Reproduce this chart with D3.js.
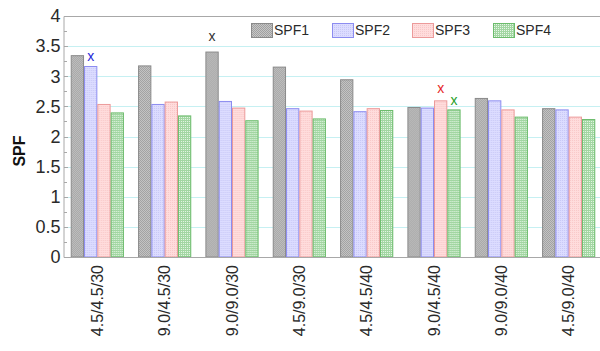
<!DOCTYPE html>
<html>
<head>
<meta charset="utf-8">
<script src="https://cdn.jsdelivr.net/npm/d3@7"></script>
<style>
  body { margin: 0; background: #fff; }
  svg { display: block; font-family: "Liberation Sans", Arial, sans-serif; }
</style>
</head>
<body>
<div id="chart"></div>
<script>
// groups on the x axis
var groups = ["4.5/4.5/30", "9.0/4.5/30", "9.0/9.0/30", "4.5/9.0/30",
              "4.5/4.5/40", "9.0/4.5/40", "9.0/9.0/40", "4.5/9.0/40"];
var seriesNames = ["SPF1", "SPF2", "SPF3", "SPF4"];

var spf1 = [3.35, 3.18, 3.41, 3.16, 2.95, 2.49, 2.64, 2.47];
var spf2 = [3.17, 2.54, 2.59, 2.47, 2.42, 2.48, 2.60, 2.45];
var spf3 = [2.54, 2.58, 2.48, 2.43, 2.47, 2.60, 2.45, 2.33];
var spf4 = [2.40, 2.35, 2.27, 2.30, 2.44, 2.45, 2.33, 2.29];

// the little "x" marks: group, series, value
var markGroup  = ["4.5/4.5/30", "9.0/9.0/30", "9.0/4.5/40", "9.0/4.5/40"];
var markSeries = ["SPF2", "SPF1", "SPF3", "SPF4"];
var markValue  = [3.33, 3.67, 2.80, 2.60];

var yTicks = [0, 0.5, 1, 1.5, 2, 2.5, 3, 3.5, 4];

var W = 600, H = 351;
var mLeft = 64, mRight = 602, mTop = 16, mBottom = 257;

var svg = d3.select("#chart").append("svg")
  .attr("width", W).attr("height", H);

var defs = svg.append("defs");

// SPF1: grey checker
var p1 = defs.append("pattern").attr("id", "pat1")
  .attr("width", 2).attr("height", 2).attr("patternUnits", "userSpaceOnUse");
p1.append("rect").attr("width", 2).attr("height", 2).attr("fill", "#c6c6c6");
p1.append("rect").attr("width", 1).attr("height", 1).attr("fill", "#a0a0a0");
p1.append("rect").attr("x", 1).attr("y", 1).attr("width", 1).attr("height", 1).attr("fill", "#a0a0a0");

// SPF2: lavender with faint dots
var p2 = defs.append("pattern").attr("id", "pat2")
  .attr("width", 2).attr("height", 2).attr("patternUnits", "userSpaceOnUse");
p2.append("rect").attr("width", 2).attr("height", 2).attr("fill", "#dcdcff");
p2.append("rect").attr("width", 1).attr("height", 1).attr("fill", "#c8c8f6");

// SPF3: pink with faint dots
var p3 = defs.append("pattern").attr("id", "pat3")
  .attr("width", 2).attr("height", 2).attr("patternUnits", "userSpaceOnUse");
p3.append("rect").attr("width", 2).attr("height", 2).attr("fill", "#ffdcdc");
p3.append("rect").attr("width", 1).attr("height", 1).attr("fill", "#f8c8c8");

// SPF4: green grid
var p4 = defs.append("pattern").attr("id", "pat4")
  .attr("width", 2).attr("height", 2).attr("patternUnits", "userSpaceOnUse");
p4.append("rect").attr("width", 2).attr("height", 2).attr("fill", "#e6f6e6");
p4.append("rect").attr("width", 1).attr("height", 2).attr("fill", "#a2d6a2");
p4.append("rect").attr("width", 2).attr("height", 1).attr("fill", "#a2d6a2");

var fills   = ["url(#pat1)", "url(#pat2)", "url(#pat3)", "url(#pat4)"];
var strokes = ["#8a8a8a", "#8c8cf0", "#ec9a9a", "#6cbc6c"];
var markColors = {SPF1: "#333333", SPF2: "#2828d8", SPF3: "#e62828", SPF4: "#28a028"};

var x0 = d3.scaleBand().domain(groups).range([mLeft, mRight])
  .paddingInner(0.21).paddingOuter(0.1);
var x1 = d3.scaleBand().domain(seriesNames).range([0, x0.bandwidth()]);
var y = d3.scaleLinear().domain([0, 4]).range([mBottom, mTop]);

// grid lines
svg.append("g").selectAll("line")
  .data(yTicks.filter(function (d) { return d > 0 && d < 4; }))
  .enter().append("line")
  .attr("x1", mLeft).attr("x2", W)
  .attr("y1", function (d) { return Math.round(y(d)) + 0.5; })
  .attr("y2", function (d) { return Math.round(y(d)) + 0.5; })
  .attr("stroke", "#c6f0f2").attr("stroke-width", 1);

// bars
var table = groups.map(function (g, i) {
  return {group: g, values: [spf1[i], spf2[i], spf3[i], spf4[i]]};
});

var gg = svg.append("g").selectAll("g")
  .data(table).enter().append("g")
  .attr("transform", function (d) { return "translate(" + x0(d.group) + ",0)"; });

gg.selectAll("rect")
  .data(function (d) { return d.values.map(function (v, j) { return {s: seriesNames[j], v: v, j: j}; }); })
  .enter().append("rect")
  .attr("x", function (d) { return x1(d.s) + 0.5; })
  .attr("y", function (d) { return y(d.v) + 0.5; })
  .attr("width", x1.bandwidth() - 1)
  .attr("height", function (d) { return y(0) - y(d.v) - 0.5; })
  .attr("fill", function (d) { return fills[d.j]; })
  .attr("stroke", function (d) { return strokes[d.j]; })
  .attr("stroke-width", 1);

// x marks
svg.append("g").selectAll("text")
  .data(markValue.map(function (v, i) { return {g: markGroup[i], s: markSeries[i], v: v}; }))
  .enter().append("text")
  .attr("x", function (d) { return x0(d.g) + x1(d.s) + x1.bandwidth() / 2; })
  .attr("y", function (d) { return y(d.v); })
  .attr("dy", "0.35em")
  .attr("text-anchor", "middle")
  .attr("font-size", 14)
  .attr("fill", function (d) { return markColors[d.s]; })
  .text("x");

// frame lines
svg.append("line").attr("x1", mLeft).attr("x2", W).attr("y1", mTop + 0.5).attr("y2", mTop + 0.5)
  .attr("stroke", "#a8a8a8");
svg.append("line").attr("x1", mLeft).attr("x2", W).attr("y1", mBottom + 0.5).attr("y2", mBottom + 0.5)
  .attr("stroke", "#a8a8a8");

// y axis
var yAxis = d3.axisLeft(y).tickValues(yTicks).tickSize(0).tickPadding(3)
  .tickFormat(d3.format("~g"));
var ya = svg.append("g").attr("transform", "translate(" + (mLeft - 0.5) + ",0)").call(yAxis);
ya.select(".domain").attr("stroke", "#a8a8a8");
ya.selectAll("text").attr("font-size", 18).attr("fill", "#2a2a2a")
  .attr("font-family", "'Liberation Sans', Arial, sans-serif");

// minor ticks on the inside
var minor = d3.range(0, 4.01, 0.25);
svg.append("g").selectAll("line").data(minor).enter().append("line")
  .attr("x1", mLeft).attr("x2", function (d, i) { return mLeft + (i % 2 ? 3 : 4); })
  .attr("y1", function (d) { return Math.round(y(d)) + 0.5; })
  .attr("y2", function (d) { return Math.round(y(d)) + 0.5; })
  .attr("stroke", "#a8a8a8");

// x labels
svg.append("g").selectAll("text").data(groups).enter().append("text")
  .attr("transform", function (d) {
    return "translate(" + (x0(d) + x0.bandwidth() / 2) + "," + (mBottom + 8) + ") rotate(-90)";
  })
  .attr("text-anchor", "end")
  .attr("dy", "0.35em")
  .attr("font-size", 16)
  .attr("fill", "#2a2a2a")
  .text(function (d) { return d; });

// y title
svg.append("text")
  .attr("transform", "translate(19,151) rotate(-90)")
  .attr("text-anchor", "middle")
  .attr("dy", "0.35em")
  .attr("font-size", 16)
  .attr("font-weight", "bold")
  .attr("fill", "#111")
  .text("SPF");

// legend
var legX = [251, 332, 412, 493];
var leg = svg.append("g").selectAll("g").data(seriesNames).enter().append("g")
  .attr("transform", function (d, i) { return "translate(" + legX[i] + ",23)"; });
leg.append("rect")
  .attr("x", 0.5).attr("y", 0.5).attr("width", 21).attr("height", 14)
  .attr("fill", function (d, i) { return fills[i]; })
  .attr("stroke", function (d, i) { return strokes[i]; });
leg.append("text")
  .attr("x", 23).attr("y", 7.5).attr("dy", "0.35em")
  .attr("font-size", 14).attr("fill", "#2a2a2a")
  .text(function (d) { return d; });
</script>
</body>
</html>
